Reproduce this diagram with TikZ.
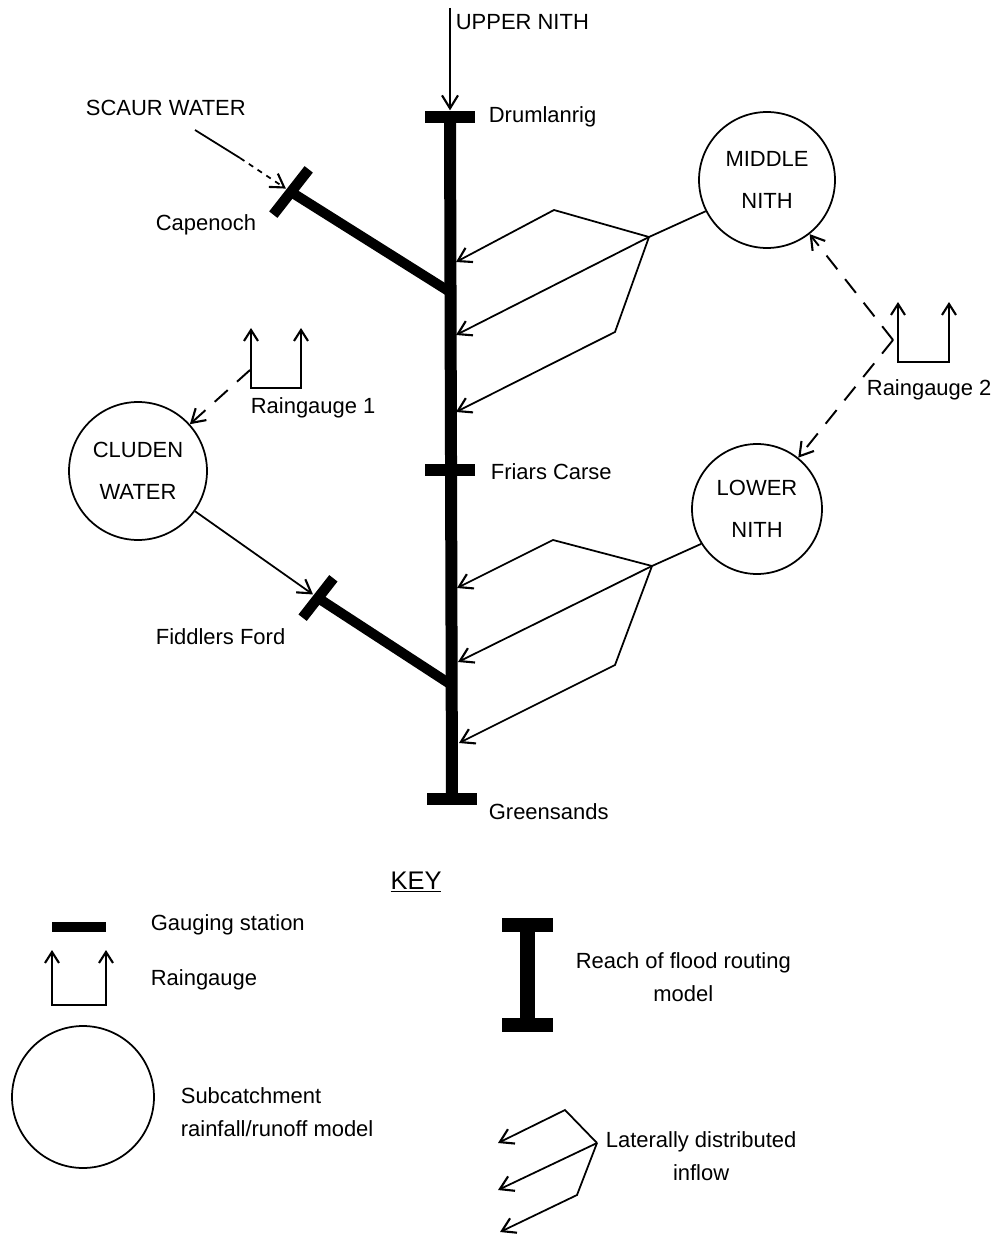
\documentclass[tikz,border=0pt]{standalone}
\usepackage{fontspec}
\setmainfont{Liberation Sans}
\usetikzlibrary{arrows.meta}

\begin{document}
\begin{tikzpicture}[x=0.02cm,y=-0.02cm,font=\fontsize{12.5}{19}\selectfont,line width=1pt,
 gs/.style={fill=black,minimum width=1cm,minimum height=0.23cm,inner sep=0pt},
 sub/.style={draw,circle,align=center,inner sep=0pt,font=\fontsize{12.5}{24}\selectfont},
 river/.style={line width=0.24cm},
 trib/.style={line width=0.2cm},
 flow/.style={-{Straight Barb[length=2.6mm,width=3.2mm,line width=1.2pt]}},
 rain/.style={flow,line width=1.1pt,dash pattern=on 3.5mm off 2.5mm},
 gauge/.style={{Straight Barb[length=2.2mm,width=2.8mm]}-{Straight Barb[length=2.2mm,width=2.8mm]},line width=1.2pt},
 lbl/.style={anchor=west,inner sep=0pt}]
\useasboundingbox (0,0) rectangle (991,1236);
\node[gs] (drum) at (450,117) {};
\node[gs] (fc) at (450,470) {};
\node[gs] (green) at (452,799) {};
\node[gs,rotate=52,minimum width=1.15cm,minimum height=0.21cm] (cap) at (291,192) {};
\node[gs,rotate=52,minimum height=0.21cm] (fid) at (318,598) {};
\node[sub,minimum size=2.72cm] (mn) at (767,180) {MIDDLE\\NITH};
\node[sub,minimum size=2.6cm] (ln) at (757,509) {LOWER\\NITH};
\node[sub,minimum size=2.76cm] (cw) at (138,471) {CLUDEN\\WATER};
\node[lbl] (unl) at (455,22) {UPPER NITH};
\node[lbl] (druml) at (488,117) {Drumlanrig};
\node[lbl] (fcl) at (490,472) {Friars Carse};
\node[lbl] (greenl) at (488,812) {Greensands};
\node[lbl] (swl) at (85,108) {SCAUR WATER};
\node[lbl] (capl) at (155,225) {Capenoch};
\node[lbl] (fidl) at (155,637) {Fiddlers Ford};
\node[lbl] (rg1l) at (250,408) {Raingauge 1};
\node[lbl] (rg2l) at (866,390) {Raingauge 2};
\coordinate (un) at (450,8);
\coordinate (j1) at (450,292);
\coordinate (j2) at (450,684);
\coordinate (s0) at (195,130);
\coordinate (s1) at (240,158);
\draw[flow] (un) -- (drum.north);
\draw[river] (drum.center) -- (green.center);
\draw[trib] (cap.center) -- (j1);
\draw[trib] (fid.center) -- (j2);
\draw (s0) -- (s1);
\draw[flow,dashed] (s1) -- (cap);
\draw[flow] (cw) -- (fid);
\draw[gauge] (251,328) |- (301,388) -- (301,328);
\draw[gauge] (898,302) |- (949,362) -- (949,302);
\coordinate (rg1) at (250,370);
\coordinate (rg2) at (893,340);
\draw[rain] (rg1) -- (cw);
\draw[rain] (rg2) -- (mn);
\draw[rain] (rg2) -- (ln);
\coordinate (h1) at (649,237);
\coordinate (t1) at (554,210);
\coordinate (b1) at (615,332);
\coordinate (r1) at (456,262);
\coordinate (r2) at (456,335);
\coordinate (r3) at (456,412);
\draw (mn.207) -- (h1);
\draw[flow] (h1) -- (t1) -- (r1);
\draw[flow] (h1) -- (r2);
\draw[flow] (h1) -- (b1) -- (r3);
\coordinate (h2) at (652,566);
\coordinate (t2) at (553,540);
\coordinate (b2) at (615,665);
\coordinate (r4) at (457,588);
\coordinate (r5) at (458,662);
\coordinate (r6) at (459,743);
\draw (ln.212) -- (h2);
\draw[flow] (h2) -- (t2) -- (r4);
\draw[flow] (h2) -- (r5);
\draw[flow] (h2) -- (b2) -- (r6);
\node[font=\fontsize{14.5}{17}\selectfont] (key) at (416,882) {\underline{KEY}};
\node[gs,minimum width=1.08cm,minimum height=0.2cm] (kgs) at (79,927) {};
\node[lbl] (kgsl) at (150,925) {Gauging station};
\draw[gauge] (52,950) |- (106,1005) -- (106,950);
\node[lbl] (krgl) at (150,980) {Raingauge};
\node[sub,minimum size=2.84cm] (kc) at (83,1097) {};
\node[lbl,align=left] (kcl) at (180,1112) {Subcatchment\\rainfall/runoff model};
\node[gs,minimum width=1.02cm,minimum height=0.28cm] (kt) at (527,925) {};
\node[gs,minimum width=1.02cm,minimum height=0.28cm] (kb) at (527,1025) {};
\draw[line width=0.3cm] (kt.center) -- (kb.center);
\node[lbl,align=center] (krl) at (575,977) {Reach of flood routing\\model};
\coordinate (kh) at (597,1143);
\coordinate (kt1) at (565,1110);
\coordinate (kb1) at (577,1195);
\coordinate (kr1) at (498,1143);
\coordinate (kr2) at (498,1190);
\coordinate (kr3) at (500,1232);
\draw[flow] (kh) -- (kt1) -- (kr1);
\draw[flow] (kh) -- (kr2);
\draw[flow] (kh) -- (kb1) -- (kr3);
\node[lbl,align=center] (kll) at (605,1156) {Laterally distributed\\inflow};
\end{tikzpicture}
\end{document}
